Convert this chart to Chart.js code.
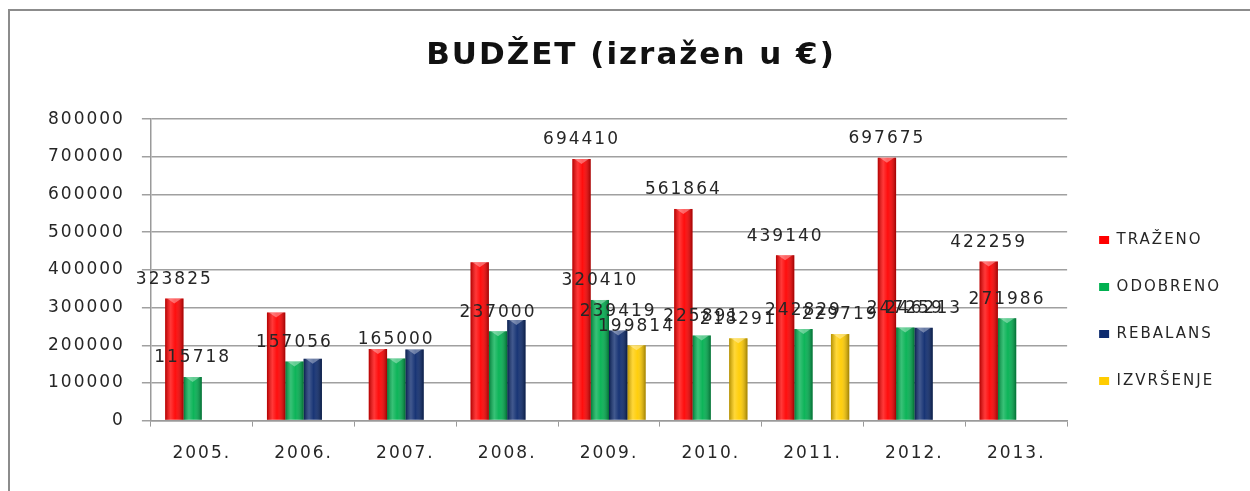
<!DOCTYPE html>
<html>
<head>
<meta charset="utf-8">
<title>BUDŽET (izražen u €)</title>
<script src="https://cdn.jsdelivr.net/npm/chart.js@4.4.1/dist/chart.umd.min.js"></script>
<style>
  html, body { margin: 0; padding: 0; background: #fff; overflow: hidden; }
  #wrap { position: relative; width: 1250px; height: 491px; }
  #frame { position: absolute; left: 8px; top: 9px; width: 1400px; height: 700px; border: 2px solid #8c8c8c; pointer-events: none; }
  canvas { position: absolute; left: 0; top: 0; }
</style>
</head>
<body>
<div id="wrap">
  <div id="frame"></div>
  <canvas id="budzetChart" width="1250" height="491"></canvas>
</div>
<script>
// podaci (procjena s grafa gdje broj nije ispisan)
const godine = ["2005.", "2006.", "2007.", "2008.", "2009.", "2010.", "2011.", "2012.", "2013."];
const trazeno = [323825, 287000, 190000, 420000, 694410, 561864, 439140, 697675, 422259];
const odobreno = [115718, 157056, 165000, 237000, 320410, 225891, 242829, 247259, 271986];
const rebalans = [null, 164000, 189000, 267000, 239419, null, null, 246213, null];
const izvrsenje = [null, null, null, null, 199814, 218291, 229719, null, null];

// koje vrijednosti imaju oznaku iznad stupca
const trazenoOznaka = [true, false, false, false, true, true, true, true, true];
const odobrenoOznaka = [true, true, true, true, true, true, true, true, true];
const rebalansOznaka = [false, false, false, false, true, false, false, true, false];
const izvrsenjeOznaka = [false, false, false, false, true, true, true, false, false];

const yTicks = [0, 100000, 200000, 300000, 400000, 500000, 600000, 700000, 800000];

const TEXT_SPACING = "2px";

// razmak slova kao na originalu
const spacingPlugin = {
    id: "spacing",
    beforeLayout(chart) { chart.ctx.letterSpacing = TEXT_SPACING; },
    beforeDraw(chart) { chart.ctx.letterSpacing = TEXT_SPACING; }
};

// sjenčanje stupaca (3D izgled) i oznake vrijednosti
const barLookPlugin = {
    id: "barLook",
    afterDatasetsDraw(chart) {
        const ctx = chart.ctx;
        ctx.save();
        chart.data.datasets.forEach((ds, di) => {
            const meta = chart.getDatasetMeta(di);
            meta.data.forEach((bar, i) => {
                if (ds.data[i] === null) return;
                const left = bar.x - bar.width / 2;
                const right = bar.x + bar.width / 2;
                const g = ctx.createLinearGradient(left, 0, right, 0);
                g.addColorStop(0, "rgba(0,0,0,0.30)");
                g.addColorStop(0.3, "rgba(255,255,255,0.22)");
                g.addColorStop(0.55, "rgba(255,255,255,0.05)");
                g.addColorStop(1, "rgba(0,0,0,0.38)");
                ctx.fillStyle = g;
                ctx.fillRect(left, bar.y, bar.width, bar.base - bar.y);
                // mali vrh kao kod 3D stupca
                ctx.fillStyle = "rgba(255,255,255,0.35)";
                ctx.beginPath();
                ctx.moveTo(left + 2, bar.y);
                ctx.lineTo(right - 2, bar.y);
                ctx.lineTo(bar.x, bar.y + 5);
                ctx.closePath();
                ctx.fill();
            });
        });

        ctx.font = "17px 'DejaVu Sans'";
        ctx.fillStyle = "#262626";
        ctx.textAlign = "center";
        ctx.textBaseline = "middle";
        ctx.letterSpacing = TEXT_SPACING;
        chart.data.datasets.forEach((ds, di) => {
            const meta = chart.getDatasetMeta(di);
            meta.data.forEach((bar, i) => {
                if (ds.data[i] === null || !ds.oznake[i]) return;
                ctx.fillText(String(ds.data[i]), bar.x, bar.y - 19);
            });
        });
        ctx.restore();
    }
};

const ctx = document.getElementById("budzetChart").getContext("2d");
const budzetChart = new Chart(ctx, {
    type: "bar",
    data: {
        labels: godine,
        datasets: [
            { label: "TRAŽENO", data: trazeno, oznake: trazenoOznaka, backgroundColor: "#ff0000" },
            { label: "ODOBRENO", data: odobreno, oznake: odobrenoOznaka, backgroundColor: "#00b050" },
            { label: "REBALANS", data: rebalans, oznake: rebalansOznaka, backgroundColor: "#0c2a6e" },
            { label: "IZVRŠENJE", data: izvrsenje, oznake: izvrsenjeOznaka, backgroundColor: "#ffcc00" }
        ]
    },
    options: {
        responsive: false,
        animation: false,
        datasets: {
            bar: { barPercentage: 1.0, categoryPercentage: 0.72 }
        },
        layout: { padding: { top: 10, left: 31, right: 19, bottom: 10 } },
        plugins: {
            title: {
                display: true,
                text: "BUDŽET (izražen u €)",
                color: "#111",
                font: { family: "'DejaVu Sans'", size: 31, weight: "bold", lineHeight: 1.2 },
                padding: { top: 27, bottom: 45 }
            },
            legend: {
                position: "right",
                align: "end",
                fullSize: false,
                labels: {
                    color: "#262626",
                    font: { family: "'DejaVu Sans'", size: 15 },
                    boxWidth: 10,
                    boxHeight: 8,
                    padding: 32
                }
            },
            tooltip: { enabled: false }
        },
        scales: {
            x: {
                grid: { drawOnChartArea: false, drawTicks: true, tickLength: 6, offset: true, color: "#9a9a9a" },
                border: { color: "#9a9a9a", width: 1.5 },
                ticks: { color: "#262626", font: { family: "'DejaVu Sans'", size: 17 }, padding: 17 }
            },
            y: {
                min: 0,
                max: 800000,
                afterBuildTicks(axis) { axis.ticks = yTicks.map(v => ({ value: v })); },
                grid: { color: "#a0a0a0", lineWidth: 1.5, tickLength: 9 },
                border: { color: "#9a9a9a", width: 1.5 },
                ticks: {
                    color: "#262626",
                    font: { family: "'DejaVu Sans'", size: 17 },
                    padding: 17,
                    callback: v => String(v)
                }
            }
        }
    },
    plugins: [spacingPlugin, barLookPlugin]
});
</script>
</body>
</html>
